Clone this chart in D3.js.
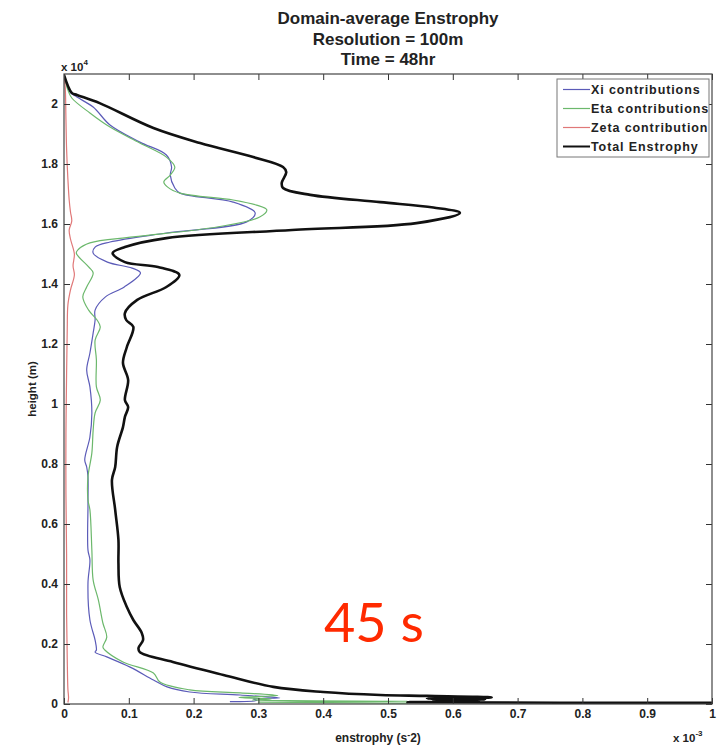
<!DOCTYPE html>
<html>
<head>
<meta charset="utf-8">
<script src="https://cdn.jsdelivr.net/npm/d3@7"></script>
<style>
body{margin:0;background:#fff}
svg{display:block}
text{font-family:"Liberation Sans",Arial,sans-serif;font-weight:bold;fill:#222}
</style>
</head>
<body>
<svg id="chart" width="721" height="745"></svg>
<script>
// profiles: [enstrophy (x 1e-3 s^-2), height (x 1e4 m)]
const xiProfile = [
	[0,2.097],[0.009,2.04],[0.02,2.023],[0.045,1.99],[0.071,1.93],[0.117,1.873],[0.158,1.83],
	[0.166,1.79],[0.164,1.763],[0.171,1.72],[0.179,1.703],[0.261,1.673],[0.295,1.637],[0.282,1.607],
	[0.158,1.57],[0.071,1.54],[0.048,1.523],[0.045,1.503],[0.067,1.473],[0.105,1.453],[0.118,1.437],
	[0.093,1.39],[0.064,1.357],[0.048,1.313],[0.048,1.28],[0.045,1.237],[0.04,1.17],[0.035,1.113],
	[0.04,1.057],[0.043,0.97],[0.04,0.89],[0.032,0.813],[0.035,0.79],[0.037,0.757],[0.037,0.68],
	[0.037,0.657],[0.037,0.513],[0.04,0.48],[0.037,0.403],[0.04,0.28],[0.048,0.213],[0.05,0.18],
	[0.048,0.173],[0.066,0.157],[0.102,0.123],[0.138,0.08],[0.159,0.057],[0.194,0.04],[0.272,0.03],
	[0.333,0.02],[0.292,0.017],[0.298,0.012],[0.256,0.008]
];
const etaProfile = [
	[0,2.097],[0.006,2.047],[0.012,2.02],[0.04,1.97],[0.071,1.923],[0.117,1.87],[0.158,1.823],
	[0.171,1.79],[0.164,1.763],[0.154,1.74],[0.16,1.723],[0.179,1.703],[0.261,1.68],[0.297,1.663],
	[0.313,1.647],[0.302,1.623],[0.236,1.59],[0.107,1.557],[0.04,1.537],[0.022,1.515],[0.019,1.503],
	[0.038,1.457],[0.045,1.437],[0.035,1.39],[0.029,1.357],[0.038,1.313],[0.051,1.28],[0.056,1.257],
	[0.048,1.213],[0.05,1.147],[0.05,1.057],[0.056,1.013],[0.048,0.97],[0.045,0.913],[0.043,0.837],
	[0.037,0.757],[0.037,0.68],[0.04,0.647],[0.043,0.513],[0.045,0.413],[0.053,0.347],[0.06,0.27],
	[0.066,0.223],[0.06,0.19],[0.063,0.18],[0.091,0.14],[0.138,0.103],[0.148,0.073],[0.194,0.047],
	[0.272,0.037],[0.33,0.028],[0.27,0.022],[0.32,0.017],[0.29,0.013],[0.53,0.009],[0.3,0.006],[0.53,0.003]
];
const zetaProfile = [
	[0,2.097],[0.002,2.05],[0.003,1.95],[0.004,1.85],[0.006,1.75],[0.008,1.68],[0.01,1.64],[0.012,1.61],
	[0.008,1.58],[0.01,1.55],[0.016,1.5],[0.014,1.46],[0.016,1.43],[0.01,1.38],[0.006,1.33],[0.005,1.25],
	[0.004,1.1],[0.003,0.9],[0.003,0.7],[0.004,0.5],[0.004,0.3],[0.005,0.15],[0.006,0.05],[0.007,0.02],[0.006,0.005]
];
const totalProfile = [
	[0,2.097],[0.012,2.037],[0.02,2.03],[0.055,2.003],[0.138,1.92],[0.21,1.87],[0.292,1.823],
	[0.338,1.79],[0.343,1.773],[0.336,1.737],[0.338,1.72],[0.38,1.697],[0.488,1.673],[0.57,1.655],
	[0.611,1.637],[0.544,1.603],[0.352,1.58],[0.158,1.553],[0.094,1.523],[0.075,1.503],[0.094,1.473],
	[0.145,1.457],[0.178,1.43],[0.158,1.39],[0.113,1.347],[0.094,1.303],[0.096,1.28],[0.107,1.257],
	[0.097,1.19],[0.091,1.137],[0.099,1.08],[0.094,1.013],[0.099,0.99],[0.094,0.957],[0.091,0.923],
	[0.082,0.857],[0.079,0.79],[0.074,0.747],[0.079,0.647],[0.084,0.547],[0.084,0.47],[0.086,0.39],
	[0.097,0.323],[0.107,0.28],[0.12,0.237],[0.122,0.213],[0.115,0.187],[0.117,0.173],[0.168,0.14],
	[0.246,0.097],[0.323,0.057],[0.4,0.04],[0.488,0.03],[0.56,0.027],[0.66,0.022],[0.56,0.018],
	[0.65,0.015],[0.57,0.012],[0.64,0.009],[0.53,0.006],[1.0,0.004]
];

const seriesNames = ["Xi contributions", "Eta contributions", "Zeta contributions", "Total Enstrophy"];
const seriesData = [xiProfile, etaProfile, zetaProfile, totalProfile];
const seriesColors = ["#5b5bb8", "#6cb86c", "#e07878", "#111111"];
const seriesWidths = [1.2, 1.2, 1.2, 2.6];
const xTicks = [0, 0.1, 0.2, 0.3, 0.4, 0.5, 0.6, 0.7, 0.8, 0.9, 1];
const yTicks = [0, 0.2, 0.4, 0.6, 0.8, 1, 1.2, 1.4, 1.6, 1.8, 2];
const titleLines = ["Domain-average Enstrophy", "Resolution = 100m", "Time = 48hr"];

const svg = d3.select("#chart"),
	margin = {top: 74, right: 9, bottom: 41, left: 64},
	width = 721 - margin.left - margin.right,
	height = 745 - margin.top - margin.bottom;

const x = d3.scaleLinear().domain([0, 1]).range([0, width]),
	y = d3.scaleLinear().domain([0, 2.1]).range([height, 0]);

const fmt = d => String(+d.toFixed(1));

svg.append("defs").append("clipPath").attr("id", "plotclip")
	.append("rect").attr("width", width).attr("height", height);

const g = svg.append("g").attr("transform", "translate(" + margin.left + "," + margin.top + ")");

// lines
const line = d3.line()
	.x(d => x(d[0]))
	.y(d => y(d[1]))
	.curve(d3.curveCatmullRom.alpha(0.5));

g.append("g").attr("clip-path", "url(#plotclip)")
	.selectAll("path")
	.data(seriesData)
	.join("path")
	.attr("d", d => line(d))
	.attr("fill", "none")
	.attr("stroke", (d, i) => seriesColors[i])
	.attr("stroke-width", (d, i) => seriesWidths[i])
	.attr("stroke-linejoin", "round");

// axes, matlab style ticks pointing inward
function styleAxis(sel){
	sel.select(".domain").remove();
	sel.selectAll("line").attr("stroke", "#333");
	sel.selectAll("text").attr("font-size", 12).attr("font-weight", "bold").attr("fill", "#222")
		.attr("font-family", "'Liberation Sans', Arial, sans-serif");
}
g.append("g").attr("transform", "translate(0," + height + ")")
	.call(d3.axisBottom(x).tickValues(xTicks).tickSize(-6).tickPadding(5).tickFormat(fmt))
	.call(styleAxis);
g.append("g")
	.call(d3.axisTop(x).tickValues(xTicks).tickSize(-6).tickFormat(""))
	.call(styleAxis);
g.append("g")
	.call(d3.axisLeft(y).tickValues(yTicks).tickSize(-6).tickPadding(6).tickFormat(fmt))
	.call(styleAxis);
g.append("g").attr("transform", "translate(" + width + ",0)")
	.call(d3.axisRight(y).tickValues(yTicks).tickSize(-6).tickFormat(""))
	.call(styleAxis);

g.append("rect").attr("width", width).attr("height", height)
	.attr("fill", "none").attr("stroke", "#444").attr("stroke-width", 1.2);

// titles
svg.append("g").selectAll("text").data(titleLines).join("text")
	.attr("x", margin.left + width / 2)
	.attr("y", (d, i) => 24 + i * 20.5)
	.attr("text-anchor", "middle")
	.attr("font-size", 17)
	.text(d => d);

// axis labels and multipliers
svg.append("text")
	.attr("transform", "translate(36," + 389 + ") rotate(-90)")
	.attr("text-anchor", "middle").attr("font-size", 11.5)
	.text("height (m)");

let xl = svg.append("text").attr("x", 378).attr("y", 742)
	.attr("text-anchor", "middle").attr("font-size", 12);
xl.append("tspan").text("enstrophy (s");
xl.append("tspan").attr("dy", -4).attr("font-size", 9).text("-");
xl.append("tspan").attr("dy", 4).text("2)");

let xm = svg.append("text").attr("x", 673).attr("y", 742).attr("font-size", 11.5);
xm.append("tspan").text("x 10");
xm.append("tspan").attr("dy", -6).attr("font-size", 8).text("-3");

let ym = svg.append("text").attr("x", 61).attr("y", 71).attr("font-size", 11.5);
ym.append("tspan").text("x 10");
ym.append("tspan").attr("dy", -6).attr("font-size", 8).text("4");

// legend, labels cut at the box edge as in the source figure
const legend = svg.append("g").attr("transform", "translate(557,79)");
legend.append("defs").append("clipPath").attr("id", "legclip")
	.append("rect").attr("width", 151).attr("height", 78);
legend.append("rect").attr("width", 152).attr("height", 78)
	.attr("fill", "#fff").attr("stroke", "#777").attr("stroke-width", 1);
const entries = legend.append("g").attr("clip-path", "url(#legclip)")
	.selectAll("g").data(seriesNames).join("g")
	.attr("transform", (d, i) => "translate(0," + (10.5 + i * 19) + ")");
entries.append("line").attr("x1", 6).attr("x2", 33)
	.attr("stroke", (d, i) => seriesColors[i])
	.attr("stroke-width", (d, i) => i === 3 ? 2 : 1.2);
entries.append("text").attr("x", 34).attr("y", 4.5).attr("font-size", 12.5)
	.style("letter-spacing", "0.9px")
	.text(d => d);

// time stamp overlay
svg.append("text").attr("x", 324).attr("y", 642)
	.attr("font-size", 54)
	.style("font-family", "Lato, 'Open Sans', sans-serif")
	.style("font-weight", "normal")
	.style("fill", "#ff2a00")
	.text("45 s");
</script>
</body>
</html>
